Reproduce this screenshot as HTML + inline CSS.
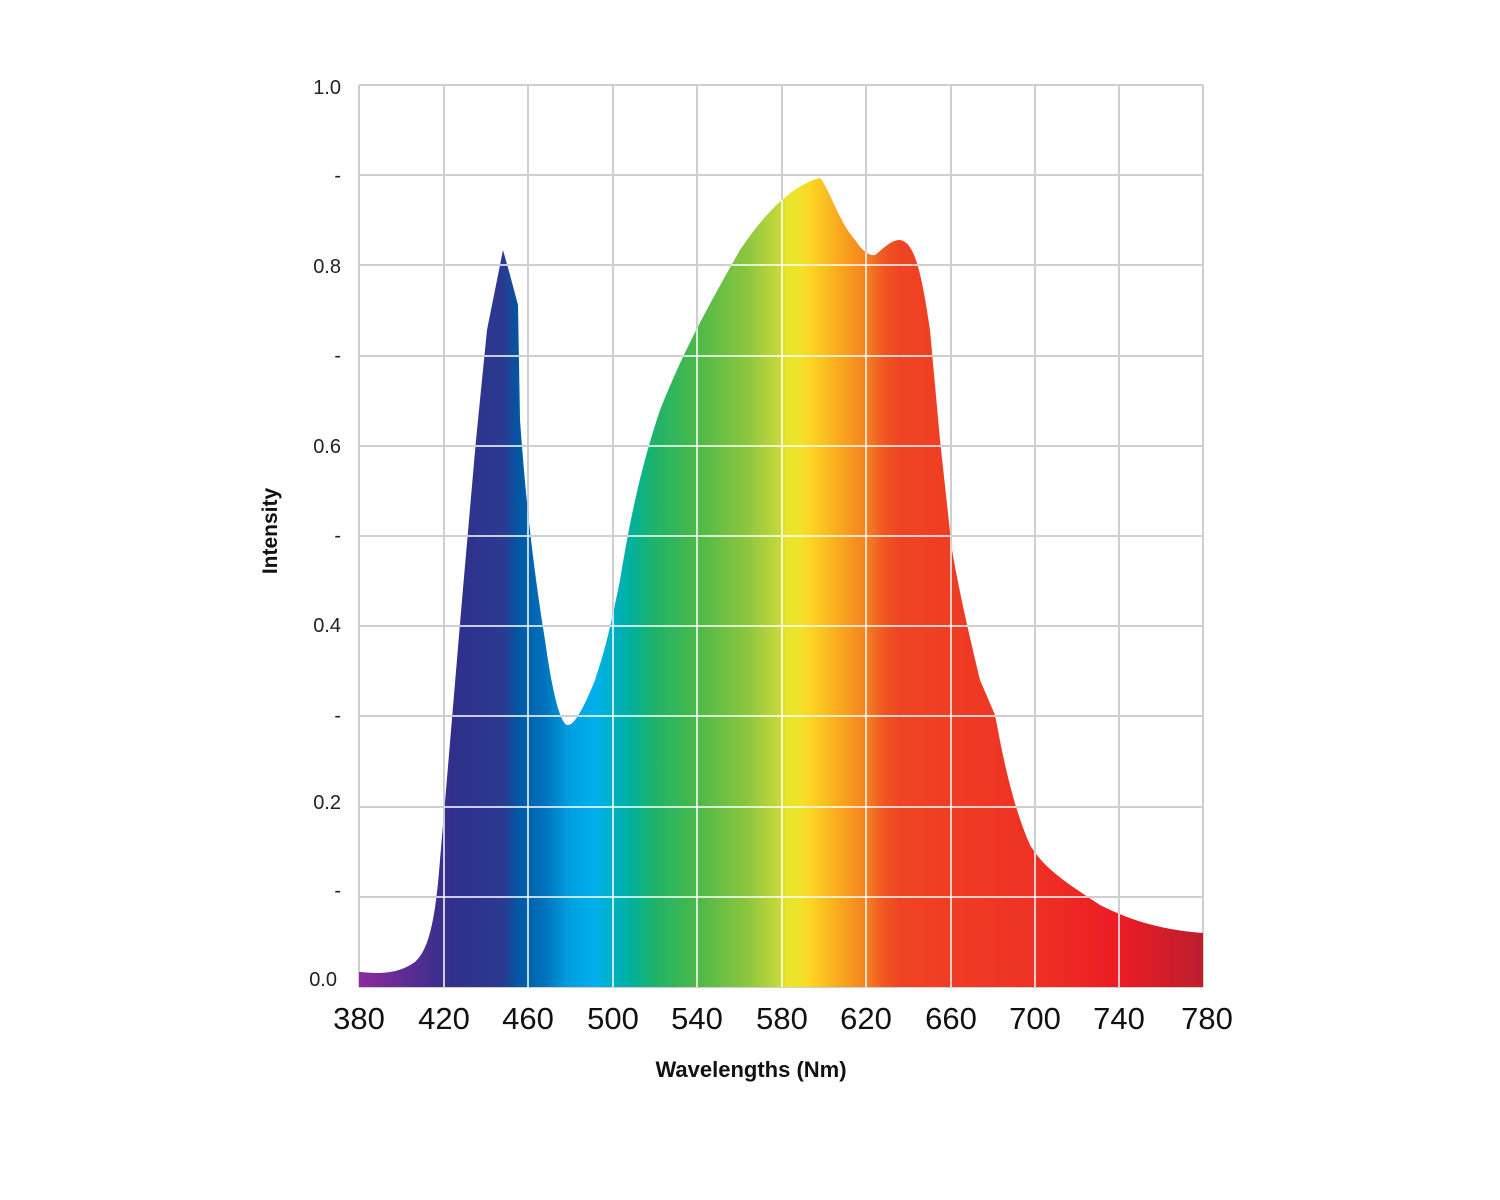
<!DOCTYPE html>
<html><head><style>
body{margin:0;background:#fff;}
svg{display:block;}
</style></head><body>
<svg width="1500" height="1200" xmlns="http://www.w3.org/2000/svg">
<defs>
<linearGradient id="g" x1="359" y1="0" x2="1203" y2="0" gradientUnits="userSpaceOnUse">
<stop offset="0" stop-color="#8a2c9c"/>
<stop offset="0.06" stop-color="#5a2c92"/>
<stop offset="0.11" stop-color="#30308c"/>
<stop offset="0.17" stop-color="#2b3990"/>
<stop offset="0.19" stop-color="#0058a4"/>
<stop offset="0.22" stop-color="#0072bb"/>
<stop offset="0.25" stop-color="#00a0e0"/>
<stop offset="0.28" stop-color="#00b0ec"/>
<stop offset="0.32" stop-color="#00b0a0"/>
<stop offset="0.35" stop-color="#1db36a"/>
<stop offset="0.40" stop-color="#4cb848"/>
<stop offset="0.46" stop-color="#8dc63f"/>
<stop offset="0.50" stop-color="#c8d93a"/>
<stop offset="0.505" stop-color="#e8e42c"/>
<stop offset="0.52" stop-color="#ece62a"/>
<stop offset="0.51" stop-color="#ece62a"/>
<stop offset="0.535" stop-color="#fdd524"/>
<stop offset="0.57" stop-color="#f9a81e"/>
<stop offset="0.60" stop-color="#f58220"/>
<stop offset="0.62" stop-color="#f15a22"/>
<stop offset="0.64" stop-color="#ef4423"/>
<stop offset="0.80" stop-color="#ee3124"/>
<stop offset="0.90" stop-color="#ec1c24"/>
<stop offset="1" stop-color="#bc1e2e"/>
</linearGradient>
<clipPath id="c"><path id="p" d="M359,972 C375,973 395,976 415,962 C428,950 435,925 440,860 L446,790 L462,600 L476,440 L487,330 L503,250 L510,275 L518,305 L520,420 C525,490 532,560 545,640 C552,690 560,725 568,725 C575,725 585,705 595,680 C605,650 610,630 620,580 C630,520 640,470 660,410 C680,360 700,320 740,250 C760,220 790,185 820,178 C830,190 838,220 855,240 C862,250 868,256 875,255 C882,250 890,240 900,240 C912,242 920,260 930,330 L940,440 L952,550 C960,595 968,630 980,680 L995,715 C1000,740 1010,800 1030,845 C1045,870 1070,885 1100,905 C1130,920 1160,930 1203,933 L1203,987 L359,987 Z"/></clipPath>
</defs>
<g stroke="#cfcfcf" stroke-width="2" fill="none">
<path d="M359,85V987M444,85V987M528,85V987M613,85V987M697,85V987M782,85V987M866,85V987M951,85V987M1035,85V987M1119,85V987M1203,85V987"/>
<path d="M359,85H1203M359,175H1203M359,265H1203M359,356H1203M359,446H1203M359,536H1203M359,626H1203M359,716H1203M359,807H1203M359,897H1203M359,987H1203"/>
</g>
<path d="M359,972 C375,973 395,976 415,962 C428,950 435,925 440,860 L446,790 L462,600 L476,440 L487,330 L503,250 L510,275 L518,305 L520,420 C525,490 532,560 545,640 C552,690 560,725 568,725 C575,725 585,705 595,680 C605,650 610,630 620,580 C630,520 640,470 660,410 C680,360 700,320 740,250 C760,220 790,185 820,178 C830,190 838,220 855,240 C862,250 868,256 875,255 C882,250 890,240 900,240 C912,242 920,260 930,330 L940,440 L952,550 C960,595 968,630 980,680 L995,715 C1000,740 1010,800 1030,845 C1045,870 1070,885 1100,905 C1130,920 1160,930 1203,933 L1203,987 L359,987 Z" fill="url(#g)"/>
<g clip-path="url(#c)" stroke="#fff" stroke-opacity="0.75" stroke-width="2" fill="none">
<path d="M444,85V987M528,85V987M613,85V987M697,85V987M782,85V987M866,85V987M951,85V987M1035,85V987M1119,85V987"/>
<path d="M359,175H1203M359,265H1203M359,356H1203M359,446H1203M359,536H1203M359,626H1203M359,716H1203M359,807H1203M359,897H1203"/>
</g>
<g font-family="Liberation Sans, sans-serif" font-size="20" fill="#222" text-anchor="end">
<text x="341" y="94">1.0</text><text x="341" y="182">-</text>
<text x="341" y="273">0.8</text><text x="341" y="362">-</text>
<text x="341" y="453">0.6</text><text x="341" y="542">-</text>
<text x="341" y="632">0.4</text><text x="341" y="722">-</text>
<text x="341" y="809">0.2</text><text x="341" y="897">-</text>
<text x="337" y="986">0.0</text>
</g>
<g font-family="Liberation Sans, sans-serif" font-size="31" fill="#111" text-anchor="middle">
<text x="359" y="1029">380</text><text x="444" y="1029">420</text><text x="528" y="1029">460</text>
<text x="613" y="1029">500</text><text x="697" y="1029">540</text><text x="782" y="1029">580</text>
<text x="866" y="1029">620</text><text x="951" y="1029">660</text><text x="1035" y="1029">700</text>
<text x="1119" y="1029">740</text><text x="1207" y="1029">780</text>
</g>
<text x="751" y="1077" font-family="Liberation Sans, sans-serif" font-size="22" font-weight="bold" text-anchor="middle" fill="#111">Wavelengths (Nm)</text>
<text transform="translate(277,531) rotate(-90)" font-family="Liberation Sans, sans-serif" font-size="21" font-weight="bold" text-anchor="middle" fill="#111">Intensity</text>
</svg>
</body></html>
